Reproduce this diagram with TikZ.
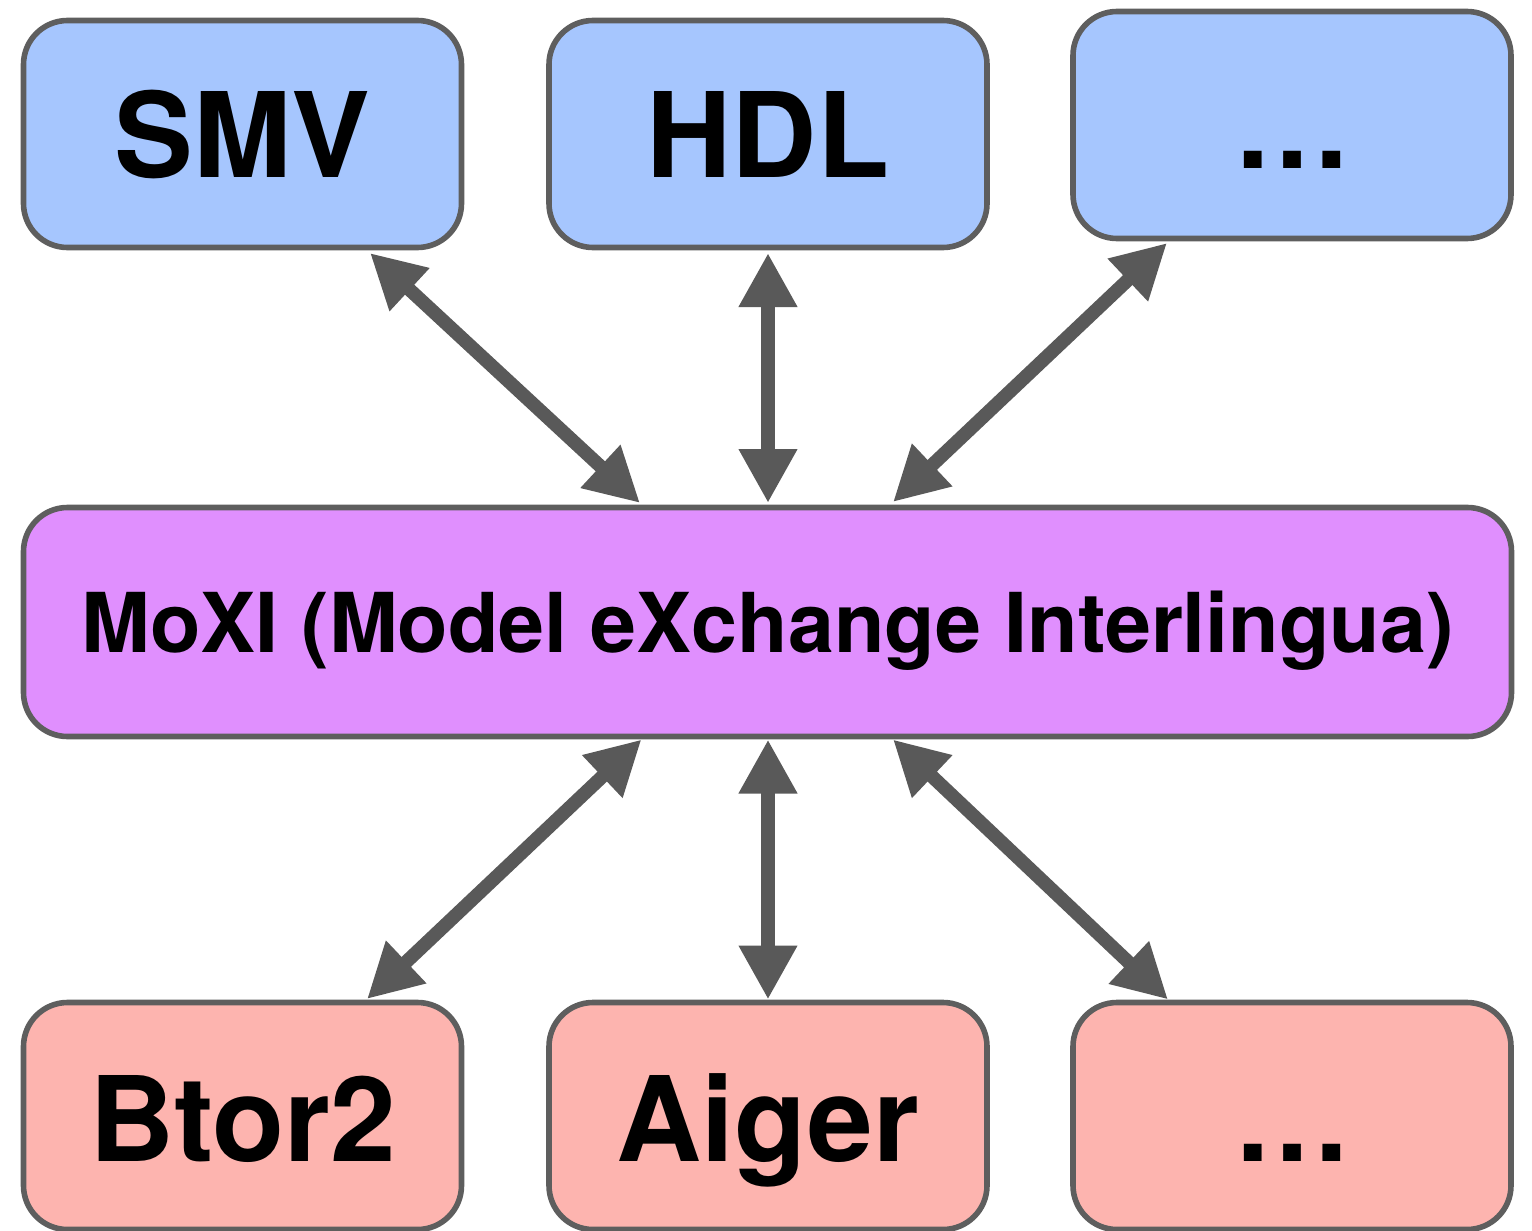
\documentclass[tikz,border=0pt]{standalone}
\usepackage{fontspec}
\setmainfont{TeX Gyre Heros}
\usetikzlibrary{arrows.meta}

\definecolor{srcblue}{RGB}{166,198,254}
\definecolor{hubpurple}{RGB}{224,143,254}
\definecolor{tgtpink}{RGB}{253,180,175}
\definecolor{edgegray}{RGB}{94,94,94}
\definecolor{arrowgray}{RGB}{89,89,89}

\tikzset{
  box/.style={draw=edgegray, line width=2.8pt, rounded corners=22pt,
    inner sep=0pt, outer sep=0pt, align=center, text=black,
    font=\bfseries\fontsize{59pt}{59pt}\selectfont},
  small/.style={box, minimum width=219pt, minimum height=113.5pt},
  toprow/.style={small, fill=srcblue, text height=43pt, text depth=0pt},
  botrow/.style={small, fill=tgtpink, text height=45pt, text depth=0pt},
  hub/.style={box, fill=hubpurple, minimum width=744pt, minimum height=114.5pt,
    text height=30pt, text depth=0pt,
    font=\bfseries\fontsize{41.3pt}{41.3pt}\selectfont},
  link/.style={draw=arrowgray, line width=6.8pt,
    {Triangle[length=27pt,width=27.5pt]}-{Triangle[length=27pt,width=27.5pt]}}
}

\begin{document}
\begin{tikzpicture}[x=0.5pt, y=-0.5pt]
  \useasboundingbox (0,0) rectangle (1532,1231);

  % source formats
  \node[toprow] (smv) at (242.5,134) {SMV};
  \node[toprow] (hdl) at (768,134) {HDL};
  \node[toprow] (moresrc) at (1292,125) {…};

  % interchange language
  \node[hub] (moxi) at (767.5,622) {MoXI (Model eXchange Interlingua)};

  % target formats
  \node[botrow] (btor) at (242.5,1116) {Btor2};
  \node[botrow] (aiger) at (768,1116) {Aiger};
  \node[botrow] (moretgt) at (1292,1116) {…};

  % translations in both directions
  \draw[link] ([shift={(127.5,5.5)}]smv.south) -- ([shift={(-127.5,-4.5)}]moxi.north);
  \draw[link] ([shift={(0,5.5)}]hdl.south) -- ([shift={(0.5,-4.5)}]moxi.north);
  \draw[link] ([shift={(-125,4.5)}]moresrc.south) -- ([shift={(125.5,-5.5)}]moxi.north);

  \draw[link] ([shift={(-126,3)}]moxi.south) -- ([shift={(124.5,-3.5)}]btor.north);
  \draw[link] ([shift={(0.5,3)}]moxi.south) -- ([shift={(0,-3)}]aiger.north);
  \draw[link] ([shift={(125.5,3)}]moxi.south) -- ([shift={(-124,-3)}]moretgt.north);
\end{tikzpicture}
\end{document}
